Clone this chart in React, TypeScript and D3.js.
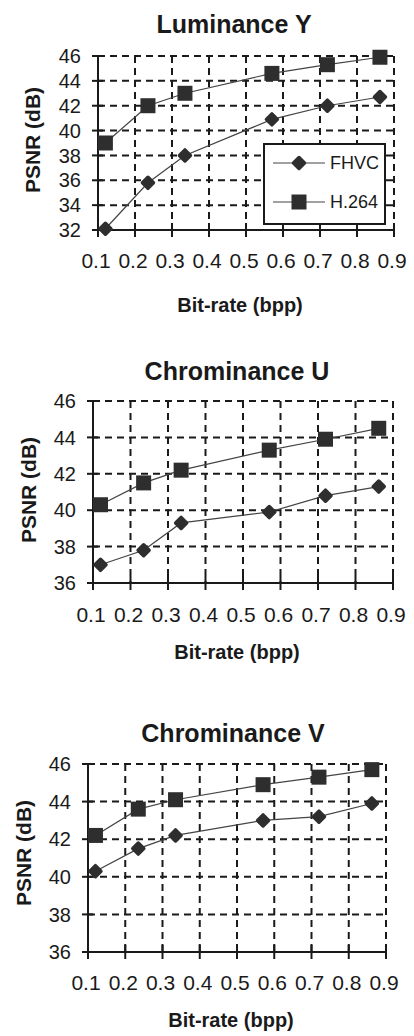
import React from 'react';
import * as d3 from 'd3';

// bit-rate (bpp) of the six test points, shared by all three panels
const bitRate = [0.12, 0.235, 0.335, 0.57, 0.72, 0.862];

const lumaFhvc = [32.1, 35.8, 38.0, 40.9, 42.0, 42.7];
const lumaH264 = [39.0, 42.0, 43.0, 44.6, 45.3, 45.9];

const chromaUFhvc = [37.0, 37.8, 39.3, 39.9, 40.8, 41.3];
const chromaUH264 = [40.3, 41.5, 42.2, 43.3, 43.9, 44.5];

const chromaVFhvc = [40.3, 41.5, 42.2, 43.0, 43.2, 43.9];
const chromaVH264 = [42.2, 43.6, 44.1, 44.9, 45.3, 45.7];

const xTicks = [0.1, 0.2, 0.3, 0.4, 0.5, 0.6, 0.7, 0.8, 0.9];
const yTicksLuma = [32, 34, 36, 38, 40, 42, 44, 46];
const yTicksChroma = [36, 38, 40, 42, 44, 46];

const seriesNames = ['FHVC', 'H.264'];

const FONT = '"Liberation Sans", Arial, sans-serif';
const INK = '#1a1a1a';
const MARK = '#2e2e2e';

const panels = [
  {
    title: 'Luminance Y', fhvc: lumaFhvc, h264: lumaH264, yTicks: yTicksLuma,
    left: 98, right: 394, top: 56, bottom: 230,
    titleX: 234, titleY: 33, yTitleX: 32, yTitleY: 140, xTickY: 268, xTitleY: 312,
    legend: true,
  },
  {
    title: 'Chrominance U', fhvc: chromaUFhvc, h264: chromaUH264, yTicks: yTicksChroma,
    left: 93, right: 393, top: 401, bottom: 583,
    titleX: 237, titleY: 380, yTitleX: 28, yTitleY: 490, xTickY: 622, xTitleY: 659,
    legend: false,
  },
  {
    title: 'Chrominance V', fhvc: chromaVFhvc, h264: chromaVH264, yTicks: yTicksChroma,
    left: 88, right: 386, top: 764, bottom: 952,
    titleX: 233, titleY: 742, yTitleX: 23, yTitleY: 853, xTickY: 990, xTitleY: 1027,
    legend: false,
  },
];

const diamond = (cx, cy, r) => `M${cx},${cy - r}L${cx + r},${cy}L${cx},${cy + r}L${cx - r},${cy}Z`;

const Marker = ({ kind, x, y }) =>
  kind === 0 ? (
    <path d={diamond(x, y, 5.5)} fill={MARK} stroke={MARK} strokeWidth={3.5} strokeLinejoin="round" />
  ) : (
    <rect x={x - 7.5} y={y - 7.5} width={15} height={15} fill={MARK} />
  );

const Panel = ({ p }) => {
  const x = d3.scaleLinear().domain([0.1, 0.9]).range([p.left, p.right]);
  const yDom = d3.extent(p.yTicks);
  const y = d3.scaleLinear().domain(yDom).range([p.bottom, p.top]);
  const line = d3.line().x((d, i) => x(bitRate[i])).y(d => y(d));
  const series = [p.fhvc, p.h264];

  return (
    <g>
      <text x={p.titleX} y={p.titleY} textAnchor="middle" fontFamily={FONT} fontWeight="bold" fontSize={25} fill={INK}>
        {p.title}
      </text>

      {/* dashed grid */}
      {p.yTicks.slice(1).map(t => (
        <line key={'h' + t} x1={p.left} x2={p.right} y1={y(t)} y2={y(t)} stroke={INK} strokeWidth={2} strokeDasharray="7,5" />
      ))}
      {xTicks.slice(1).map(t => (
        <line key={'v' + t} x1={x(t)} x2={x(t)} y1={p.top} y2={p.bottom} stroke={INK} strokeWidth={2} strokeDasharray="7,5" />
      ))}

      {/* axes */}
      <line x1={p.left} x2={p.left} y1={p.top} y2={p.bottom} stroke={INK} strokeWidth={2} />
      <line x1={p.left} x2={p.right} y1={p.bottom} y2={p.bottom} stroke={INK} strokeWidth={2} />
      {p.yTicks.map(t => (
        <g key={'yt' + t}>
          <line x1={p.left - 6} x2={p.left + 5} y1={y(t)} y2={y(t)} stroke={INK} strokeWidth={2} />
          <text x={p.left - 17} y={y(t)} dy="0.36em" textAnchor="end" fontFamily={FONT} fontSize={20} fill={INK}>
            {t}
          </text>
        </g>
      ))}
      {xTicks.map(t => (
        <g key={'xt' + t}>
          <line x1={x(t)} x2={x(t)} y1={p.bottom - 7} y2={p.bottom + 7} stroke={INK} strokeWidth={2} />
          <text x={x(t) - 2} y={p.xTickY} textAnchor="middle" fontFamily={FONT} fontSize={21} fill={INK}>
            {t.toFixed(1)}
          </text>
        </g>
      ))}

      <text
        transform={`translate(${p.yTitleX},${p.yTitleY}) rotate(-90)`}
        dy="0.36em" textAnchor="middle" fontFamily={FONT} fontWeight="bold" fontSize={21} fill={INK}
      >
        PSNR (dB)
      </text>
      <text x={(p.left + p.right) / 2 - 6} y={p.xTitleY} textAnchor="middle" fontFamily={FONT} fontWeight="bold" fontSize={20} fill={INK}>
        Bit-rate (bpp)
      </text>

      {/* series */}
      {series.map((s, k) => (
        <g key={'s' + k}>
          <path d={line(s)} fill="none" stroke="#444" strokeWidth={1.2} />
          {s.map((v, i) => <Marker key={i} kind={k} x={x(bitRate[i])} y={y(v)} />)}
        </g>
      ))}

      {p.legend && (
        <g>
          <rect x={264} y={144} width={121} height={80} fill="#fff" stroke={INK} strokeWidth={2} />
          {seriesNames.map((name, k) => (
            <g key={name} transform={`translate(0,${163 + k * 39})`}>
              <line x1={273} x2={325} y1={0} y2={0} stroke="#444" strokeWidth={1.2} />
              <Marker kind={k} x={299} y={0} />
              <text x={330} y={0} dy="0.36em" fontFamily={FONT} fontSize={18} fill={INK}>
                {name}
              </text>
            </g>
          ))}
        </g>
      )}
    </g>
  );
};

export default function App() {
  return (
    <svg width={414} height={1036} style={{ position: 'absolute', left: 0, top: 0, background: '#fff' }}>
      {panels.map(p => <Panel key={p.title} p={p} />)}
    </svg>
  );
}
